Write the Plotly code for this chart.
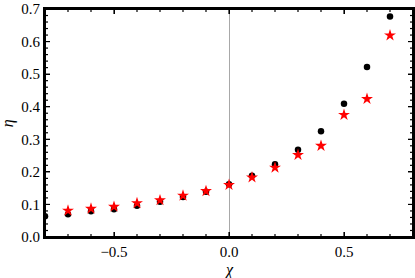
import plotly.graph_objects as go

chi_dots = [-0.8, -0.7, -0.6, -0.5, -0.4, -0.3, -0.2, -0.1, 0.0, 0.1, 0.2, 0.3, 0.4, 0.5, 0.6, 0.7]
eta_dots = [0.064, 0.070, 0.079, 0.085, 0.096, 0.108, 0.123, 0.139, 0.162, 0.188, 0.223, 0.268, 0.325, 0.409, 0.522, 0.677]
chi_stars = [-0.7, -0.6, -0.5, -0.4, -0.3, -0.2, -0.1, 0.0, 0.1, 0.2, 0.3, 0.4, 0.5, 0.6, 0.7]
eta_stars = [0.081, 0.087, 0.093, 0.104, 0.113, 0.127, 0.141, 0.160, 0.183, 0.213, 0.252, 0.280, 0.375, 0.424, 0.619]

x_major_ticks = [-0.5, 0.0, 0.5]
x_tick_labels = ["\u22120.5", "0.0", "0.5"]
x_minor_ticks = [-0.7, -0.6, -0.4, -0.3, -0.2, -0.1, 0.1, 0.2, 0.3, 0.4, 0.6, 0.7]
y_major_ticks = [0.1, 0.2, 0.3, 0.4, 0.5, 0.6]
y_minor_ticks = [round(0.02 * i, 2) for i in range(1, 35) if i % 5 != 0]

X_RANGE = [-0.8, 0.8]
Y_RANGE = [0.0, 0.7]
FONT = "Liberation Serif"
W, H = 415, 278
ML, MR, MT, MB = 45, 2, 9, 41
PW, PH = W - ML - MR, H - MT - MB

fig = go.Figure()
fig.add_trace(go.Scatter(x=chi_dots, y=eta_dots, mode="markers",
                         marker=dict(symbol="circle", size=6.5, color="black", line=dict(width=0)),
                         showlegend=False))
fig.add_trace(go.Scatter(x=chi_stars, y=eta_stars, mode="markers",
                         marker=dict(symbol="star", size=9, color="red", line=dict(width=0)),
                         showlegend=False))

axis_common = dict(showgrid=False, showline=True, linecolor="black", linewidth=2,
                   mirror="allticks", ticks="inside", tickcolor="black", ticklen=5, tickwidth=1.2,
                   layer="above traces",
                   tickfont=dict(family=FONT, size=15, color="black"))

fig.update_xaxes(range=X_RANGE, tickvals=x_major_ticks, ticktext=x_tick_labels,
                 zeroline=True, zerolinecolor="#a8a8a8", zerolinewidth=1,
                 **axis_common)
fig.update_yaxes(range=Y_RANGE, dtick=0.1, tick0=0, tickformat=".1f",
                 zeroline=False, **axis_common)

# frame as filled bars
px = 1.0 / PW
py = 1.0 / PH
t = 1.0
frame_bars = [
    (-t * px, t * px, -t * py, 1 + t * py),
    (1 - t * px, 1 + t * px, -t * py, 1 + t * py),
    (-t * px, 1 + t * px, -t * py, t * py),
    (-t * px, 1 + t * px, 1 - t * py, 1 + t * py),
]
for x0, x1, y0, y1 in frame_bars:
    fig.add_shape(type="rect", xref="paper", yref="paper", x0=x0, x1=x1, y0=y0, y1=y1,
                  fillcolor="black", line=dict(width=0), opacity=1, layer="above")

# tick marks as filled bars, lengths converted from pixels to axis units
dx = (X_RANGE[1] - X_RANGE[0]) / PW
dy = (Y_RANGE[1] - Y_RANGE[0]) / PH
for vals, L in ((x_major_ticks, 5), (x_minor_ticks, 3)):
    for v in vals:
        for y0, y1 in ((Y_RANGE[0], Y_RANGE[0] + L * dy), (Y_RANGE[1] - L * dy, Y_RANGE[1])):
            fig.add_shape(type="rect", xref="x", yref="y", x0=v - 0.6 * dx, x1=v + 0.6 * dx,
                          y0=y0, y1=y1, fillcolor="black", line=dict(width=0), layer="above")
for vals, L in ((y_major_ticks, 5), (y_minor_ticks, 3)):
    for v in vals:
        for x0, x1 in ((X_RANGE[0], X_RANGE[0] + L * dx), (X_RANGE[1] - L * dx, X_RANGE[1])):
            fig.add_shape(type="rect", xref="x", yref="y", y0=v - 0.6 * dy, y1=v + 0.6 * dy,
                          x0=x0, x1=x1, fillcolor="black", line=dict(width=0), layer="above")

fig.add_annotation(text="<i>\u03c7</i>", xref="paper", yref="paper", x=0.5, y=-0.145,
                   xanchor="center", yanchor="middle", showarrow=False,
                   font=dict(family=FONT, size=16, color="black"))
fig.add_annotation(text="<i>\u03b7</i>", xref="paper", yref="paper", x=-0.1, y=0.5,
                   xanchor="center", yanchor="middle", showarrow=False, textangle=-90,
                   font=dict(family=FONT, size=16, color="black"))

fig.update_layout(template="none", width=W, height=H,
                  margin=dict(l=ML, r=MR, t=MT, b=MB),
                  paper_bgcolor="white", plot_bgcolor="white")
fig.write_html("out.html", config={"displayModeBar": False},
               post_script="document.body.style.margin='0';")
